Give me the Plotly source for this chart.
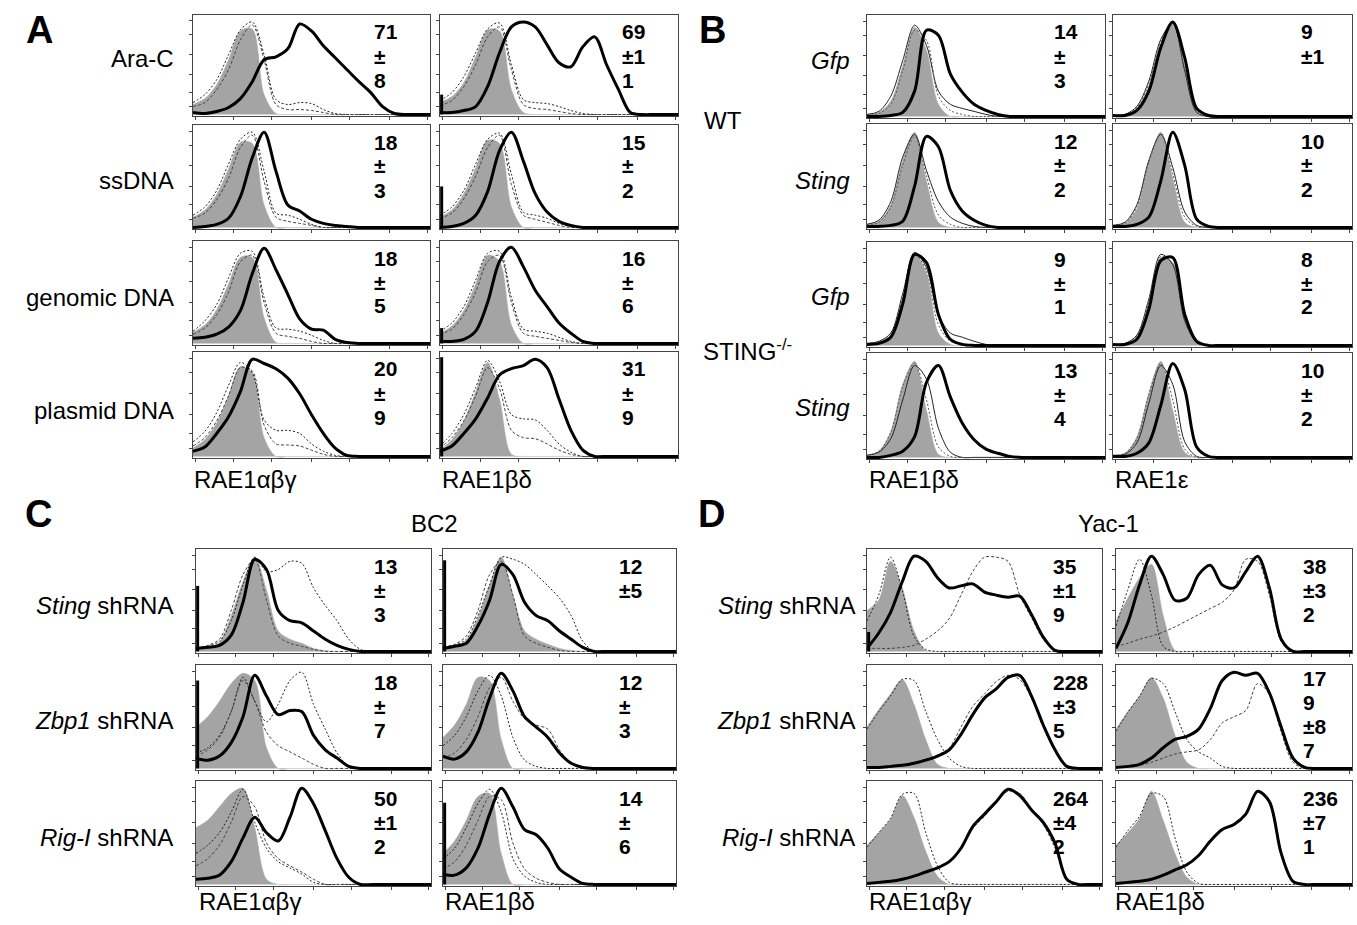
import plotly.graph_objects as go

# ---------------- data (fluorescence channel 0-100, % of mode) ----------------
X = [0, 5, 10, 15, 20, 25, 30, 35, 40, 45, 50, 55, 60, 65, 70, 75, 80, 85, 90, 95, 100]

# Panel A
A11_iso = [10,16,30,55,84,86,20,1,0,0,0,0,0,0,0,0,0,0,0,0,0]
A11_ctl1 = [12,20,35,60,85,93,60,15,10,12,11,5,1,0,0,0,0,0,0,0,0]
A11_ctl2 = [8,12,25,45,75,90,55,10,5,5,4,2,0,0,0,0,0,0,0,0,0]
A11_trt = [2,1,3,7,16,33,55,58,66,91,84,69,57,45,33,22,8,1,0,0,0]
A12_iso = [12,18,32,58,85,84,25,2,0,0,0,0,0,0,0,0,0,0,0,0,0]
A12_ctl1 = [14,22,38,62,86,92,50,15,12,11,8,4,1,0,0,0,0,0,0,0,0]
A12_ctl2 = [9,14,28,50,78,88,45,10,6,5,3,1,0,0,0,0,0,0,0,0,0]
A12_trt = [2,2,4,8,28,62,88,93,88,70,52,48,68,78,50,25,2,0,0,0,0]
A21_iso = [10,17,32,57,83,82,22,0,0,0,0,0,0,0,0,0,0,0,0,0,0]
A21_ctl1 = [12,20,36,62,86,93,55,14,12,8,3,0,0,0,0,0,0,0,0,0,0]
A21_ctl2 = [9,14,27,48,78,90,45,10,6,4,2,0,0,0,0,0,0,0,0,0,0]
A21_trt = [0,1,3,9,30,68,93,55,22,16,8,4,2,1,0,0,0,0,0,0,0]
A22_iso = [10,17,33,58,85,82,20,0,0,0,0,0,0,0,0,0,0,0,0,0,0]
A22_ctl1 = [12,20,36,62,86,92,52,15,12,9,4,1,0,0,0,0,0,0,0,0,0]
A22_ctl2 = [9,14,28,50,78,90,42,12,8,5,2,0,0,0,0,0,0,0,0,0,0]
A22_trt = [0,1,4,12,35,75,93,65,33,15,6,2,0,0,0,0,0,0,0,0,0]
A31_iso = [11,18,33,58,84,84,25,1,0,0,0,0,0,0,0,0,0,0,0,0,0]
A31_ctl1 = [12,22,38,64,88,90,45,15,14,12,8,3,0,0,0,0,0,0,0,0,0]
A31_ctl2 = [9,15,28,50,80,86,40,10,7,5,2,0,0,0,0,0,0,0,0,0,0]
A31_trt = [5,6,9,16,32,68,93,72,48,24,14,13,4,1,0,0,0,0,0,0,0]
A32_iso = [10,17,32,58,86,80,18,0,0,0,0,0,0,0,0,0,0,0,0,0,0]
A32_ctl1 = [12,20,36,62,88,90,45,14,12,10,6,2,0,0,0,0,0,0,0,0,0]
A32_ctl2 = [9,14,28,50,80,86,40,10,7,5,3,1,0,0,0,0,0,0,0,0,0]
A32_trt = [2,2,4,12,40,80,94,75,52,36,20,10,2,0,0,0,0,0,0,0,0]
A41_iso = [8,16,32,58,86,80,18,0,0,0,0,0,0,0,0,0,0,0,0,0,0]
A41_ctl1 = [14,24,42,68,90,80,35,25,25,22,12,5,1,0,0,0,0,0,0,0,0]
A41_ctl2 = [10,18,34,58,85,82,30,12,11,10,6,2,0,0,0,0,0,0,0,0,0]
A41_trt = [5,9,22,38,62,93,89,84,75,60,40,22,8,1,0,0,0,0,0,0,0]
A42_iso = [6,16,34,62,90,55,2,0,0,0,0,0,0,0,0,0,0,0,0,0,0]
A42_ctl1 = [10,22,40,66,92,72,40,36,35,25,12,4,0,0,0,0,0,0,0,0,0]
A42_ctl2 = [8,18,34,58,85,65,25,18,17,12,6,2,0,0,0,0,0,0,0,0,0]
A42_trt = [5,10,22,36,56,78,84,87,93,85,55,25,6,0,0,0,0,0,0,0,0]

# Panel B
B11_iso = [2,4,15,50,88,65,12,0,0,0,0,0,0,0,0,0,0,0,0,0,0]
B11_thin = [2,5,20,55,90,70,25,12,8,5,2,0,0,0,0,0,0,0,0,0,0]
B11_dot = [1,3,12,45,85,75,20,6,2,0,0,0,0,0,0,0,0,0,0,0,0]
B11_trt = [0,0,1,4,25,85,80,42,24,12,6,2,0,0,0,0,0,0,0,0,0]
B12_iso = [1,1,8,30,72,93,50,5,0,0,0,0,0,0,0,0,0,0,0,0,0]
B12_thin = [1,2,10,35,76,92,45,4,0,0,0,0,0,0,0,0,0,0,0,0,0]
B12_dot = [1,2,9,32,74,92,48,5,0,0,0,0,0,0,0,0,0,0,0,0,0]
B12_trt = [1,1,6,25,68,93,58,8,1,0,0,0,0,0,0,0,0,0,0,0,0]
B21_iso = [3,6,22,65,92,45,5,0,0,0,0,0,0,0,0,0,0,0,0,0,0]
B21_thin = [3,7,25,68,90,55,25,10,4,1,0,0,0,0,0,0,0,0,0,0,0]
B21_dot = [2,5,20,60,88,50,12,3,0,0,0,0,0,0,0,0,0,0,0,0,0]
B21_trt = [1,1,2,6,40,88,78,36,16,7,2,0,0,0,0,0,0,0,0,0,0]
B22_iso = [2,4,18,62,92,48,5,0,0,0,0,0,0,0,0,0,0,0,0,0,0]
B22_thin = [2,5,22,65,90,58,15,2,0,0,0,0,0,0,0,0,0,0,0,0,0]
B22_dot = [2,4,20,63,91,52,10,1,0,0,0,0,0,0,0,0,0,0,0,0,0]
B22_trt = [1,1,3,10,45,92,60,8,1,0,0,0,0,0,0,0,0,0,0,0,0]
B31_iso = [2,3,10,45,88,70,12,1,0,0,0,0,0,0,0,0,0,0,0,0,0]
B31_thin = [2,4,12,50,90,75,30,12,8,4,1,0,0,0,0,0,0,0,0,0,0]
B31_dot = [2,3,10,46,88,72,20,4,1,0,0,0,0,0,0,0,0,0,0,0,0]
B31_trt = [1,2,8,40,88,80,30,6,1,0,0,0,0,0,0,0,0,0,0,0,0]
B32_iso = [1,2,8,40,85,80,25,3,0,0,0,0,0,0,0,0,0,0,0,0,0]
B32_thin = [1,2,10,45,88,78,24,3,0,0,0,0,0,0,0,0,0,0,0,0,0]
B32_dot = [1,2,9,42,86,79,25,3,0,0,0,0,0,0,0,0,0,0,0,0,0]
B32_trt = [1,1,6,35,82,85,30,4,0,0,0,0,0,0,0,0,0,0,0,0,0]
B41_iso = [2,6,25,70,92,45,3,0,0,0,0,0,0,0,0,0,0,0,0,0,0]
B41_thin = [2,5,18,55,88,75,28,5,0,0,0,0,0,0,0,0,0,0,0,0,0]
B41_dot = [2,6,24,68,90,55,10,1,0,0,0,0,0,0,0,0,0,0,0,0,0]
B41_trt = [0,0,2,6,20,72,88,58,33,17,8,4,1,0,0,0,0,0,0,0,0]
B42_iso = [2,4,20,62,92,45,5,0,0,0,0,0,0,0,0,0,0,0,0,0,0]
B42_thin = [2,3,14,52,88,70,15,1,0,0,0,0,0,0,0,0,0,0,0,0,0]
B42_dot = [2,4,18,60,90,55,8,0,0,0,0,0,0,0,0,0,0,0,0,0,0]
B42_trt = [1,1,4,14,50,90,65,10,1,0,0,0,0,0,0,0,0,0,0,0,0]

# Panel C (BC2)
C11_iso = [2,4,9,35,68,92,60,20,12,8,3,1,0,0,0,0,0,0,0,0,0]
C11_ctl1 = [3,5,10,30,65,92,78,80,88,86,62,45,30,12,2,0,0,0,0,0,0]
C11_ctl2 = [3,6,12,40,75,90,50,15,8,5,2,0,0,0,0,0,0,0,0,0,0]
C11_trt = [3,4,6,16,48,90,80,40,30,28,20,12,6,2,0,0,0,0,0,0,0]
C12_iso = [2,5,11,33,65,92,55,20,12,7,3,1,0,0,0,0,0,0,0,0,0]
C12_ctl1 = [3,6,12,35,65,92,90,85,75,64,52,35,10,0,0,0,0,0,0,0,0]
C12_ctl2 = [4,7,15,40,75,88,55,15,8,4,1,0,0,0,0,0,0,0,0,0,0]
C12_trt = [3,5,8,25,50,85,75,48,35,30,20,12,4,0,0,0,0,0,0,0,0]
C21_iso = [40,50,65,82,92,85,20,0,0,0,0,0,0,0,0,0,0,0,0,0,0]
C21_ctl1 = [15,20,32,55,88,65,45,62,85,93,62,38,15,2,0,0,0,0,0,0,0]
C21_ctl2 = [12,18,30,55,85,65,35,22,16,10,4,0,0,0,0,0,0,0,0,0,0]
C21_trt = [10,8,12,25,50,90,70,52,56,55,32,18,10,2,0,0,0,0,0,0,0]
C22_iso = [30,42,62,88,85,28,0,0,0,0,0,0,0,0,0,0,0,0,0,0,0]
C22_ctl1 = [22,32,50,75,90,70,30,8,2,0,0,0,0,0,0,0,0,0,0,0,0]
C22_ctl2 = [10,15,28,50,78,88,65,48,42,38,18,5,0,0,0,0,0,0,0,0,0]
C22_trt = [12,9,16,35,68,92,75,50,40,30,15,5,1,0,0,0,0,0,0,0,0]
C31_iso = [55,62,75,88,93,55,5,0,0,0,0,0,0,0,0,0,0,0,0,0,0]
C31_ctl1 = [30,38,50,70,92,60,35,22,16,10,2,0,0,0,0,0,0,0,0,0,0]
C31_ctl2 = [18,25,38,60,85,75,40,25,18,12,5,0,0,0,0,0,0,0,0,0,0]
C31_trt = [5,6,9,22,45,65,50,42,65,93,78,52,25,7,0,0,0,0,0,0,0]
C32_iso = [30,42,62,85,88,30,0,0,0,0,0,0,0,0,0,0,0,0,0,0,0]
C32_ctl1 = [25,35,55,78,92,70,25,8,2,0,0,0,0,0,0,0,0,0,0,0,0]
C32_ctl2 = [15,22,38,62,85,82,40,15,6,2,0,0,0,0,0,0,0,0,0,0,0]
C32_trt = [10,9,16,35,68,93,75,53,48,35,15,7,1,0,0,0,0,0,0,0,0]

# Panel D (Yac-1)
D11_iso = [40,50,88,62,20,1,0,0,0,0,0,0,0,0,0,0,0,0,0,0,0]
D11_ctl1 = [30,55,92,60,15,2,0,0,0,0,0,0,0,0,0,0,0,0,0,0,0]
D11_ctl2 = [3,3,3,4,6,12,20,32,55,78,92,92,88,55,33,12,1,0,0,0,0]
D11_trt = [3,18,38,68,93,88,72,62,64,66,58,55,53,54,36,14,1,0,0,0,0]
D12_iso = [30,52,72,85,35,1,0,0,0,0,0,0,0,0,0,0,0,0,0,0,0]
D12_ctl1 = [25,60,90,55,5,0,0,0,0,0,0,0,0,0,0,0,0,0,0,0,0]
D12_ctl2 = [5,8,12,15,19,24,30,36,42,48,60,90,88,55,10,0,0,0,0,0,0]
D12_trt = [3,28,65,93,75,50,52,75,84,65,62,78,93,62,12,0,0,0,0,0,0]
D21_iso = [40,57,72,86,62,28,4,0,0,0,0,0,0,0,0,0,0,0,0,0,0]
D21_ctl1 = [38,55,70,86,85,55,28,10,2,0,0,0,0,0,0,0,0,0,0,0,0]
D21_ctl2 = [1,1,2,3,6,9,13,20,40,60,72,84,90,86,68,40,17,2,0,0,0]
D21_trt = [1,1,2,3,5,8,12,18,33,52,68,77,88,90,70,42,18,2,0,0,0]
D22_iso = [38,55,70,88,68,32,6,0,0,0,0,0,0,0,0,0,0,0,0,0,0]
D22_ctl1 = [36,54,70,87,82,55,28,16,10,2,0,0,0,0,0,0,0,0,0,0,0]
D22_ctl2 = [1,1,3,6,10,14,16,18,28,44,50,56,82,72,35,6,0,0,0,0,0]
D22_trt = [1,2,4,10,20,28,31,38,58,85,93,90,92,73,40,10,1,0,0,0,0]
D31_iso = [38,50,63,86,65,32,8,0,0,0,0,0,0,0,0,0,0,0,0,0,0]
D31_ctl1 = [36,50,64,87,88,50,18,2,0,0,0,0,0,0,0,0,0,0,0,0,0]
D31_ctl2 = [1,2,3,5,8,12,16,22,34,54,66,80,90,88,72,58,35,5,0,0,0]
D31_trt = [1,2,3,5,8,12,16,22,35,56,68,80,92,86,72,60,40,5,0,0,0]
D32_iso = [38,50,64,90,62,30,7,0,0,0,0,0,0,0,0,0,0,0,0,0,0]
D32_ctl1 = [36,52,66,88,85,45,12,1,0,0,0,0,0,0,0,0,0,0,0,0,0]
D32_ctl2 = [1,2,3,5,9,14,19,28,42,53,58,68,90,82,32,3,0,0,0,0,0]
D32_trt = [1,2,3,5,9,14,19,28,42,53,58,68,90,80,30,3,0,0,0,0,0]

# events piled at channel 0 (thick histogram)
SPIKE_A = [[0, 20], [0, 40], [0, 15], [0, 95]]
SPIKE_B = [[0, 0], [0, 0], [0, 0], [0, 0]]
SPIKE_C = [[64, 89], [85, 0], [0, 79]]
SPIKE_D = [[19, 0], [0, 0], [0, 0]]

# MFI ratio labels
STAT_A = [[["71", "±", "8"], ["69", "±1", "1"]],
          [["18", "±", "3"], ["15", "±", "2"]],
          [["18", "±", "5"], ["16", "±", "6"]],
          [["20", "±", "9"], ["31", "±", "9"]]]
STAT_B = [[["14", "±", "3"], ["9", "±1"]],
          [["12", "±", "2"], ["10", "±", "2"]],
          [["9", "±", "1"], ["8", "±", "2"]],
          [["13", "±", "4"], ["10", "±", "2"]]]
STAT_C = [[["13", "±", "3"], ["12", "±5"]],
          [["18", "±", "7"], ["12", "±", "3"]],
          [["50", "±1", "2"], ["14", "±", "6"]]]
STAT_D = [[["35", "±1", "9"], ["38", "±3", "2"]],
          [["228", "±3", "5"], ["17", "9", "±8", "7"]],
          [["264", "±4", "2"], ["236", "±7", "1"]]]

ROWS_A = ["Ara-C", "ssDNA", "genomic DNA", "plasmid DNA"]
ROWS_B = ["<i>Gfp</i>", "<i>Sting</i>", "<i>Gfp</i>", "<i>Sting</i>"]
ROWS_C = ["<i>Sting</i> shRNA", "<i>Zbp1</i> shRNA", "<i>Rig-I</i> shRNA"]
ROWS_D = ["<i>Sting</i> shRNA", "<i>Zbp1</i> shRNA", "<i>Rig-I</i> shRNA"]
AXES_A = ["RAE1αβγ", "RAE1βδ"]
AXES_B = ["RAE1βδ", "RAE1ε"]
AXES_C = ["RAE1αβγ", "RAE1βδ"]
AXES_D = ["RAE1αβγ", "RAE1βδ"]

# ---------------- tables built from the arrays ----------------
CURVES = {
    "A": [[(A11_iso, [A11_ctl1, A11_ctl2], A11_trt), (A12_iso, [A12_ctl1, A12_ctl2], A12_trt)],
          [(A21_iso, [A21_ctl1, A21_ctl2], A21_trt), (A22_iso, [A22_ctl1, A22_ctl2], A22_trt)],
          [(A31_iso, [A31_ctl1, A31_ctl2], A31_trt), (A32_iso, [A32_ctl1, A32_ctl2], A32_trt)],
          [(A41_iso, [A41_ctl1, A41_ctl2], A41_trt), (A42_iso, [A42_ctl1, A42_ctl2], A42_trt)]],
    "B": [[(B11_iso, [B11_thin, B11_dot], B11_trt), (B12_iso, [B12_thin, B12_dot], B12_trt)],
          [(B21_iso, [B21_thin, B21_dot], B21_trt), (B22_iso, [B22_thin, B22_dot], B22_trt)],
          [(B31_iso, [B31_thin, B31_dot], B31_trt), (B32_iso, [B32_thin, B32_dot], B32_trt)],
          [(B41_iso, [B41_thin, B41_dot], B41_trt), (B42_iso, [B42_thin, B42_dot], B42_trt)]],
    "C": [[(C11_iso, [C11_ctl1, C11_ctl2], C11_trt), (C12_iso, [C12_ctl1, C12_ctl2], C12_trt)],
          [(C21_iso, [C21_ctl1, C21_ctl2], C21_trt), (C22_iso, [C22_ctl1, C22_ctl2], C22_trt)],
          [(C31_iso, [C31_ctl1, C31_ctl2], C31_trt), (C32_iso, [C32_ctl1, C32_ctl2], C32_trt)]],
    "D": [[(D11_iso, [D11_ctl1, D11_ctl2], D11_trt), (D12_iso, [D12_ctl1, D12_ctl2], D12_trt)],
          [(D21_iso, [D21_ctl1, D21_ctl2], D21_trt), (D22_iso, [D22_ctl1, D22_ctl2], D22_trt)],
          [(D31_iso, [D31_ctl1, D31_ctl2], D31_trt), (D32_iso, [D32_ctl1, D32_ctl2], D32_trt)]],
}
SPIKES = {"A": SPIKE_A, "B": SPIKE_B, "C": SPIKE_C, "D": SPIKE_D}
STATS = {"A": STAT_A, "B": STAT_B, "C": STAT_C, "D": STAT_D}

# ---------------- layout (pixel geometry) ----------------
W, H = 1357, 925
BOX_X = {"A": [(193, 430), (440, 678)], "B": [(867, 1105), (1113, 1352)],
         "C": [(196, 431), (443, 676)], "D": [(867, 1102), (1116, 1352)]}
BOX_Y = {"A": [(15, 116), (125, 229), (241, 345), (352, 458)],
         "B": [(15, 118), (124, 229), (242, 347), (353, 459)],
         "C": [(549, 653), (665, 770), (781, 886)],
         "D": [(549, 653), (665, 770), (781, 886)]}
STAT_OFF = {"A": 57, "B": 52, "C": 58, "D": 50}

GREY = "#a4a4a4"
LINE_STY = {
    "A": [dict(color="#222", width=1, dash="2px,2px"), dict(color="#444", width=1, dash="3px,2px")],
    "B": [dict(color="#222", width=1), dict(color="#555", width=1, dash="2px,2px")],
    "C": [dict(color="#222", width=1, dash="2px,2px"), dict(color="#444", width=1, dash="3px,2px")],
    "D": [dict(color="#222", width=1, dash="2px,2px"), dict(color="#444", width=1, dash="3px,2px")],
}


def fx(p):
    return p / W


def fy(p):
    return 1 - p / H


fig = go.Figure()
layout = {}
annotations = []
STAT_FONT = dict(family="Liberation Sans, Arial", size=21, color="black", weight="bold")
k = 0
for g in ["A", "B", "C", "D"]:
    for r, row in enumerate(CURVES[g]):
        for c, (iso, others, trt) in enumerate(row):
            k += 1
            xn = "x" if k == 1 else f"x{k}"
            yn = "y" if k == 1 else f"y{k}"
            x0, x1 = BOX_X[g][c]
            y0, y1 = BOX_Y[g][r]
            layout["xaxis" if k == 1 else f"xaxis{k}"] = dict(
                domain=[fx(x0), fx(x1)], range=[0, 100], anchor=yn,
                showgrid=False, zeroline=False, showline=True, mirror=True,
                linecolor="#444", linewidth=1, ticks="outside", ticklen=3,
                tickcolor="#444", tickvals=[1, 17, 33, 50, 66, 83, 99],
                showticklabels=False, fixedrange=True)
            layout["yaxis" if k == 1 else f"yaxis{k}"] = dict(
                domain=[fy(y1), fy(y0)], range=[-1.5, 100], anchor=xn,
                showgrid=False, zeroline=False, showline=True, mirror=True,
                linecolor="#444", linewidth=1, ticks="outside", ticklen=3,
                tickcolor="#444", tickvals=[8, 22, 40, 60, 80, 94],
                showticklabels=False, fixedrange=True)
            fig.add_trace(go.Scatter(
                x=X, y=iso, xaxis=xn, yaxis=yn, mode="lines",
                line=dict(color=GREY, width=0.5, shape="spline", smoothing=0.9),
                fill="tozeroy", fillcolor=GREY, hoverinfo="skip"))
            for sty, ys in zip(LINE_STY[g], others):
                fig.add_trace(go.Scatter(
                    x=X, y=ys, xaxis=xn, yaxis=yn, mode="lines",
                    line=dict(shape="spline", smoothing=0.9, **sty), hoverinfo="skip"))
            fig.add_trace(go.Scatter(
                x=X, y=trt, xaxis=xn, yaxis=yn, mode="lines",
                line=dict(color="black", width=3, shape="spline", smoothing=0.9),
                hoverinfo="skip"))
            sp = SPIKES[g][r][c]
            if sp > 0:
                fig.add_trace(go.Scatter(
                    x=[0.7, 0.7], y=[0, sp], xaxis=xn, yaxis=yn, mode="lines",
                    line=dict(color="black", width=3), hoverinfo="skip"))
            # stats text, one annotation per line
            lines = STATS[g][r][c]
            if len(lines) == 3:
                offs = [17, 41, 65]
            elif len(lines) == 2:
                offs = [17, 41]
            else:
                offs = [13, 37, 61, 85]
            for t, o in zip(lines, offs):
                annotations.append(dict(
                    x=fx(x1 - STAT_OFF[g]), y=fy(y0 + o), xref="paper", yref="paper",
                    text=t, showarrow=False, xanchor="left", yanchor="middle",
                    borderpad=0, font=STAT_FONT))

LBL = dict(family="Liberation Sans, Arial", size=24, color="black")
# row labels
for t, yy in zip(ROWS_A, [58, 180, 297, 410]):
    annotations.append(dict(x=fx(176), y=fy(yy), text=t, xanchor="right", yanchor="middle"))
for t, yy in zip(ROWS_B, [60, 180, 296, 408]):
    annotations.append(dict(x=fx(852), y=fy(yy), text=t, xanchor="right", yanchor="middle"))
for t, yy in zip(ROWS_C, [605, 720, 837]):
    annotations.append(dict(x=fx(175), y=fy(yy), text=t, xanchor="right", yanchor="middle"))
for t, yy in zip(ROWS_D, [605, 720, 837]):
    annotations.append(dict(x=fx(857), y=fy(yy), text=t, xanchor="right", yanchor="middle"))
# axis labels
for t, xx in zip(AXES_A, [192, 440]):
    annotations.append(dict(x=fx(xx), y=fy(479), text=t, xanchor="left", yanchor="middle"))
for t, xx in zip(AXES_B, [867, 1113]):
    annotations.append(dict(x=fx(xx), y=fy(479), text=t, xanchor="left", yanchor="middle"))
for t, xx in zip(AXES_C, [197, 443]):
    annotations.append(dict(x=fx(xx), y=fy(901), text=t, xanchor="left", yanchor="middle"))
for t, xx in zip(AXES_D, [867, 1113]):
    annotations.append(dict(x=fx(xx), y=fy(901), text=t, xanchor="left", yanchor="middle"))
# group labels
annotations.append(dict(x=fx(702), y=fy(120), text="WT", xanchor="left", yanchor="middle"))
annotations.append(dict(x=fx(701), y=fy(350), text="STING<sup>-/-</sup>", xanchor="left", yanchor="middle"))
annotations.append(dict(x=fx(435), y=fy(523), text="BC2", xanchor="center", yanchor="middle"))
annotations.append(dict(x=fx(1108), y=fy(523), text="Yac-1", xanchor="center", yanchor="middle"))

for a in annotations:
    a.setdefault("xref", "paper")
    a.setdefault("yref", "paper")
    a.setdefault("showarrow", False)
    a.setdefault("font", LBL)

PANEL = dict(family="Liberation Sans, Arial", size=38, color="black", weight="bold")
for t, xx, yy in [("A", 39, 30), ("B", 712, 30), ("C", 38, 514), ("D", 711, 514)]:
    annotations.append(dict(x=fx(xx), y=fy(yy), xref="paper", yref="paper", text=t,
                            showarrow=False, xanchor="center", yanchor="middle", font=PANEL))

fig.update_layout(width=W, height=H, margin=dict(l=0, r=0, t=0, b=0),
                  paper_bgcolor="white", plot_bgcolor="white", showlegend=False,
                  annotations=annotations, **layout)
fig.write_html("out.html", config={"displayModeBar": False},
               post_script="document.body.style.margin='0px';")
